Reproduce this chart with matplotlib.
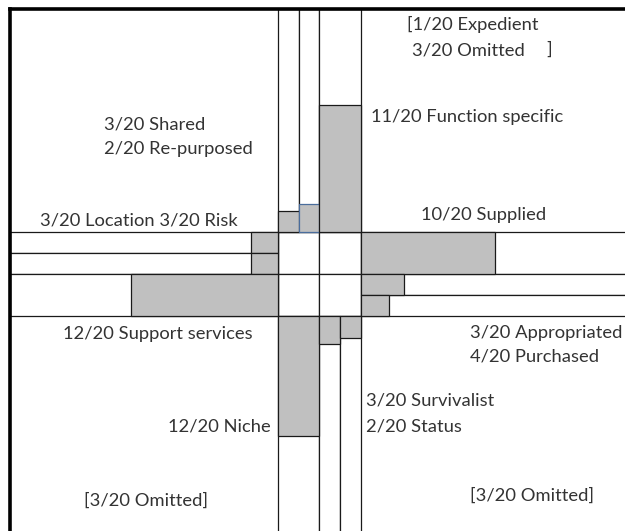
import matplotlib
matplotlib.use("Agg")
import matplotlib.pyplot as plt

# ---------------- data (bar lengths, in chart units) ----------------
top_labels = ["2/20 Re-purposed", "3/20 Shared", "11/20 Function specific"]
top_lengths = [21, 28, 127]

left_labels = ["3/20 Location", "3/20 Risk", "12/20 Support services"]
left_lengths = [27, 27, 147]

right_labels = ["10/20 Supplied", "4/20 Purchased", "3/20 Appropriated"]
right_lengths = [134, 43, 28]

bottom_labels = ["12/20 Niche", "3/20 Survivalist", "2/20 Status"]
bottom_lengths = [120, 28, 22]

# ---------------- layout ----------------
W, H = 625, 531
fig = plt.figure(figsize=(6.25, 5.31), dpi=100)
ax = fig.add_axes([0, 0, 1, 1])
ax.set_xlim(0, W)
ax.set_ylim(H, 0)
ax.axis("off")

GRAY = "#c0c0c0"
EDGE = "#1a1a1a"
LW = 0.9
TXT = "#333333"

FRAME_X, FRAME_Y = 10, 9
hub_x = [278, 319, 361]
hub_y = [232, 274, 316]

top_cols = [278, 299, 319, 361]
bottom_cols = [278, 319, 340, 361]
left_rows = [232, 253, 274, 316]
right_rows = [232, 274, 295, 316]

# center 2x2 hub
for i in range(2):
    ax.bar([hub_x[0], hub_x[1]], [hub_y[i + 1] - hub_y[i]] * 2,
           bottom=hub_y[i], width=[hub_x[1] - hub_x[0], hub_x[2] - hub_x[1]],
           align="edge", color="white", edgecolor=EDGE, linewidth=LW, zorder=1)

# top arm
tw = [top_cols[i + 1] - top_cols[i] for i in range(3)]
ax.bar(top_cols[:3], [hub_y[0] - FRAME_Y] * 3, bottom=FRAME_Y, width=tw,
       align="edge", color="white", edgecolor=EDGE, linewidth=LW, zorder=1)
tb = ax.bar(top_cols[:3], top_lengths, bottom=[hub_y[0] - v for v in top_lengths],
            width=tw, align="edge", color=GRAY, edgecolor=EDGE, linewidth=LW, zorder=2)
tb[1].set_edgecolor("#4a6d9c")

# bottom arm
bw = [bottom_cols[i + 1] - bottom_cols[i] for i in range(3)]
ax.bar(bottom_cols[:3], [H + 20 - hub_y[2]] * 3, bottom=hub_y[2], width=bw,
       align="edge", color="white", edgecolor=EDGE, linewidth=LW, zorder=1)
ax.bar(bottom_cols[:3], bottom_lengths, bottom=hub_y[2], width=bw,
       align="edge", color=GRAY, edgecolor=EDGE, linewidth=LW, zorder=2)

# left arm
lh = [left_rows[i + 1] - left_rows[i] for i in range(3)]
ax.barh(left_rows[:3], [hub_x[0] - FRAME_X] * 3, left=FRAME_X, height=lh,
        align="edge", color="white", edgecolor=EDGE, linewidth=LW, zorder=1)
ax.barh(left_rows[:3], left_lengths, left=[hub_x[0] - v for v in left_lengths],
        height=lh, align="edge", color=GRAY, edgecolor=EDGE, linewidth=LW, zorder=2)

# right arm
rh = [right_rows[i + 1] - right_rows[i] for i in range(3)]
ax.barh(right_rows[:3], [W + 20 - hub_x[2]] * 3, left=hub_x[2], height=rh,
        align="edge", color="white", edgecolor=EDGE, linewidth=LW, zorder=1)
ax.barh(right_rows[:3], right_lengths, left=hub_x[2], height=rh,
        align="edge", color=GRAY, edgecolor=EDGE, linewidth=LW, zorder=2)

# thick frame (top and left)
ax.plot([FRAME_X, FRAME_X], [H + 5, FRAME_Y], color="black", lw=2.6,
        solid_capstyle="projecting", zorder=4)
ax.plot([FRAME_X, W + 5], [FRAME_Y, FRAME_Y], color="black", lw=2.6,
        solid_capstyle="projecting", zorder=4)

# ---------------- text ----------------
FONT = "Lato"
FS = 13.2
def t(x, y, s, ha="left"):
    ax.text(x, y, s, ha=ha, va="center", fontsize=FS, family=FONT, color=TXT, zorder=5)

t(407, 24, "[1/20 Expedient")
t(412, 50, "3/20 Omitted")
t(546, 50, "]")
t(104, 124, top_labels[1])
t(104, 149, top_labels[0])
t(371, 117, top_labels[2])
t(40, 221, left_labels[0] + " " + left_labels[1])
t(421, 215, right_labels[0])
t(63, 334, left_labels[2])
t(470, 333, right_labels[2])
t(470, 357, right_labels[1])
t(366, 401, bottom_labels[1])
t(366, 426, bottom_labels[2])
t(271, 426, bottom_labels[0], ha="right")
t(84, 501, "[3/20 Omitted]")
t(470, 496, "[3/20 Omitted]")

fig.savefig("out.png", dpi=100)
